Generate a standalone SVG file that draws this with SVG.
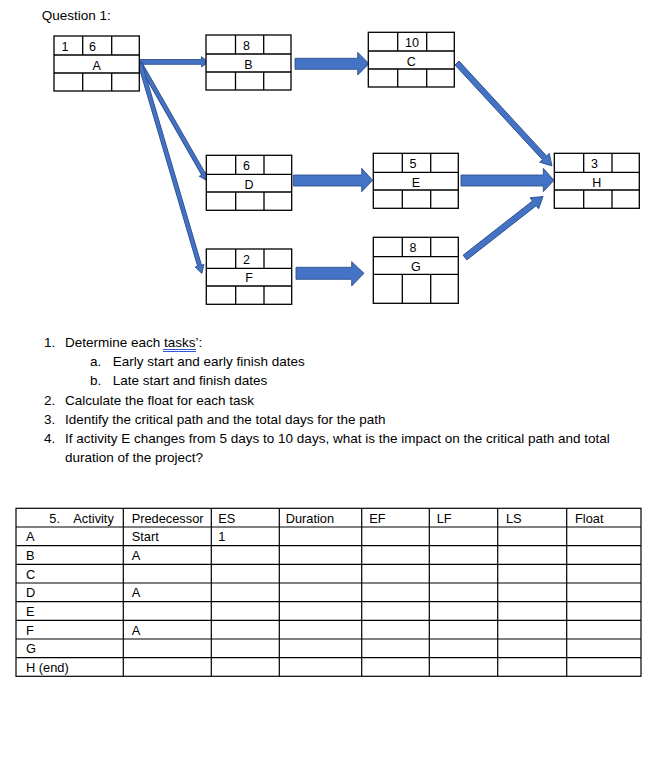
<svg xmlns="http://www.w3.org/2000/svg" width="667" height="769" viewBox="0 0 667 769">
<style>
  text { font-family: "Liberation Sans", Arial, sans-serif; fill: #000; }
  .t { font-size: 13.5px; }
  .n { font-size: 12.5px; }
  .c { text-anchor: middle; }
  .tb { font-size: 12.8px; }
  .box { fill: #fff; stroke: #000; stroke-width: 1.3; }
  .ln { stroke: #000; stroke-width: 1.3; fill: none; }
  .arr { fill: #4472C4; stroke: #2F528F; stroke-width: 0.9; stroke-linejoin: miter; }
  .grid { stroke: #000; stroke-width: 1.2; fill: none; }
</style>
<rect width="667" height="769" fill="#fff"/>
<text class="t" x="41.7" y="20">Question 1:</text>

<g id="connectors">
  <polygon class="arr" points="140,59.5 201.5,59.5 201.5,56.7 208.5,62 201.5,67 201.5,64.3 140,64.3"/>
  <polygon class="arr" points="295,58.3 357.7,58.3 357.7,52.3 369,63.7 357.7,75 357.7,69.3 295,69.3"/>
  <polygon class="arr" points="293.3,175 361.7,175 361.7,168.3 372.7,180.3 361.7,191.7 361.7,186 293.3,186"/>
  <polygon class="arr" points="461,175 543.3,175 543.3,168.3 554,180.3 543.3,191.7 543.3,186 461,186"/>
  <polygon class="arr" points="296,267.3 351.7,267.3 351.7,261.7 364,273.3 351.7,286 351.7,279.3 296,279.3"/>
  <polygon class="arr" transform="translate(140,63.3) rotate(60.2)" points="0,-2 127.5,-2 127.5,-4.5 135.3,0 127.5,4.5 127.5,2 0,2"/>
  <polygon class="arr" transform="translate(140,63.3) rotate(73.6)" points="0,-2 211,-2 211,-4.5 219,0 211,4.5 211,2 0,2"/>
  <polygon class="arr" transform="translate(457,63) rotate(47.3)" points="0,-2.8 129,-2.8 129,-6.5 140,0 129,6.5 129,2.8 0,2.8"/>
  <polygon class="arr" transform="translate(465,257.5) rotate(-38)" points="0,-3 88,-3 88,-7 99,0 88,7 88,3 0,3"/>
</g>

<g id="node-A">
  <rect class="box" x="54" y="36" width="85.3" height="55"/>
  <path class="ln" d="M54,55H139.3M54,73H139.3M82.7,36V55M111.7,36V55M82.7,73V91M111.7,73V91"/>
  <text class="n" x="61.5" y="50.7">1</text>
  <text class="n" x="89" y="50.7">6</text>
  <text class="n c" x="96.7" y="69.5">A</text>
</g>
<g id="node-B">
  <rect class="box" x="206" y="35" width="85" height="55"/>
  <path class="ln" d="M206,54H291M206,72H291M235.5,35V54M263.7,35V54M235.5,72V90M263.7,72V90"/>
  <text class="n" x="243" y="49.7">8</text>
  <text class="n c" x="248.5" y="68.5">B</text>
</g>
<g id="node-C">
  <rect class="box" x="368.3" y="32.3" width="86" height="54.7"/>
  <path class="ln" d="M368.3,51H454.3M368.3,69H454.3M397.7,32.3V51M426.7,32.3V51M397.7,69V87M426.7,69V87"/>
  <text class="n" x="405" y="47">10</text>
  <text class="n c" x="411.3" y="65.5">C</text>
</g>
<g id="node-D">
  <rect class="box" x="206.3" y="155.3" width="85.4" height="55"/>
  <path class="ln" d="M206.3,174.3H291.7M206.3,192H291.7M235.7,155.3V174.3M264,155.3V174.3M235.7,192V210.3M264,192V210.3"/>
  <text class="n" x="243" y="170">6</text>
  <text class="n c" x="249" y="188.5">D</text>
</g>
<g id="node-E">
  <rect class="box" x="373.3" y="153.3" width="85" height="55"/>
  <path class="ln" d="M373.3,172.3H458.3M373.3,190H458.3M402.3,153.3V172.3M430.7,153.3V172.3M402.3,190V208.3M430.7,190V208.3"/>
  <text class="n" x="409.5" y="168">5</text>
  <text class="n c" x="415.8" y="186.5">E</text>
</g>
<g id="node-F">
  <rect class="box" x="206.3" y="249" width="85.4" height="55.3"/>
  <path class="ln" d="M206.3,268.3H291.7M206.3,286H291.7M235.7,249V268.3M264,249V268.3M235.7,286V304.3M264,286V304.3"/>
  <text class="n" x="243" y="263.7">2</text>
  <text class="n c" x="249" y="282.3">F</text>
</g>
<g id="node-G">
  <rect class="box" x="373.3" y="237.3" width="85" height="66"/>
  <path class="ln" d="M373.3,256.7H458.3M373.3,274.3H458.3M402.3,237.3V256.7M430.7,237.3V256.7M402.3,274.3V303.3M430.7,274.3V303.3"/>
  <text class="n" x="409.5" y="252">8</text>
  <text class="n c" x="415.8" y="270.5">G</text>
</g>
<g id="node-H">
  <rect class="box" x="554.3" y="153.3" width="85" height="55"/>
  <path class="ln" d="M554.3,172.3H639.3M554.3,190H639.3M583.7,153.3V172.3M612,153.3V172.3M583.7,190V208.3M612,190V208.3"/>
  <text class="n" x="591" y="168">3</text>
  <text class="n c" x="596.8" y="186.5">H</text>
</g>

<g id="questions">
  <text class="t" x="44" y="346.5">1.</text>
  <text class="t" x="65" y="346.5">Determine each tasks’:</text>
  <path d="M163,349.5H196M163,351.5H196" stroke="#3457D5" stroke-width="1" fill="none"/>
  <text class="t" x="90" y="366">a.</text>
  <text class="t" x="112.7" y="366">Early start and early finish dates</text>
  <text class="t" x="90" y="385">b.</text>
  <text class="t" x="112.7" y="385">Late start and finish dates</text>
  <text class="t" x="44" y="404.5">2.</text>
  <text class="t" x="65" y="404.5">Calculate the float for each task</text>
  <text class="t" x="44" y="423.5">3.</text>
  <text class="t" x="65" y="423.5">Identify the critical path and the total days for the path</text>
  <text class="t" x="44" y="442.5">4.</text>
  <text class="t" x="65" y="442.5">If activity E changes from 5 days to 10 days, what is the impact on the critical path and total</text>
  <text class="t" x="65" y="462">duration of the project?</text>
</g>

<g id="table">
  <rect class="grid" x="16" y="508.3" width="625" height="168"/>
  <path class="grid" d="M16,527H641M16,545.7H641M16,564.3H641M16,583H641M16,601.7H641M16,620.3H641M16,639H641M16,657.7H641
    M123.3,508.3V676.3M211.3,508.3V676.3M279.3,508.3V676.3M361.7,508.3V676.3M429.3,508.3V676.3M497.7,508.3V676.3M566.7,508.3V676.3"/>
  <text class="tb" x="49.3" y="522.5">5.</text>
  <text class="tb" x="73.3" y="522.5">Activity</text>
  <text class="tb" x="131.7" y="522.5">Predecessor</text>
  <text class="tb" x="218.3" y="522.5">ES</text>
  <text class="tb" x="285.7" y="522.5">Duration</text>
  <text class="tb" x="369.3" y="522.5">EF</text>
  <text class="tb" x="436.7" y="522.5">LF</text>
  <text class="tb" x="506" y="522.5">LS</text>
  <text class="tb" x="575" y="522.5">Float</text>
  <text class="tb" x="26" y="541.2">A</text>
  <text class="tb" x="131.7" y="541.2">Start</text>
  <text class="tb" x="218.3" y="541.2">1</text>
  <text class="tb" x="26" y="559.9">B</text>
  <text class="tb" x="131.7" y="559.9">A</text>
  <text class="tb" x="26" y="578.5">C</text>
  <text class="tb" x="26" y="597.2">D</text>
  <text class="tb" x="131.7" y="597.2">A</text>
  <text class="tb" x="26" y="615.9">E</text>
  <text class="tb" x="26" y="634.5">F</text>
  <text class="tb" x="131.7" y="634.5">A</text>
  <text class="tb" x="26" y="653.2">G</text>
  <text class="tb" x="26" y="671.9">H (end)</text>
</g>
</svg>
